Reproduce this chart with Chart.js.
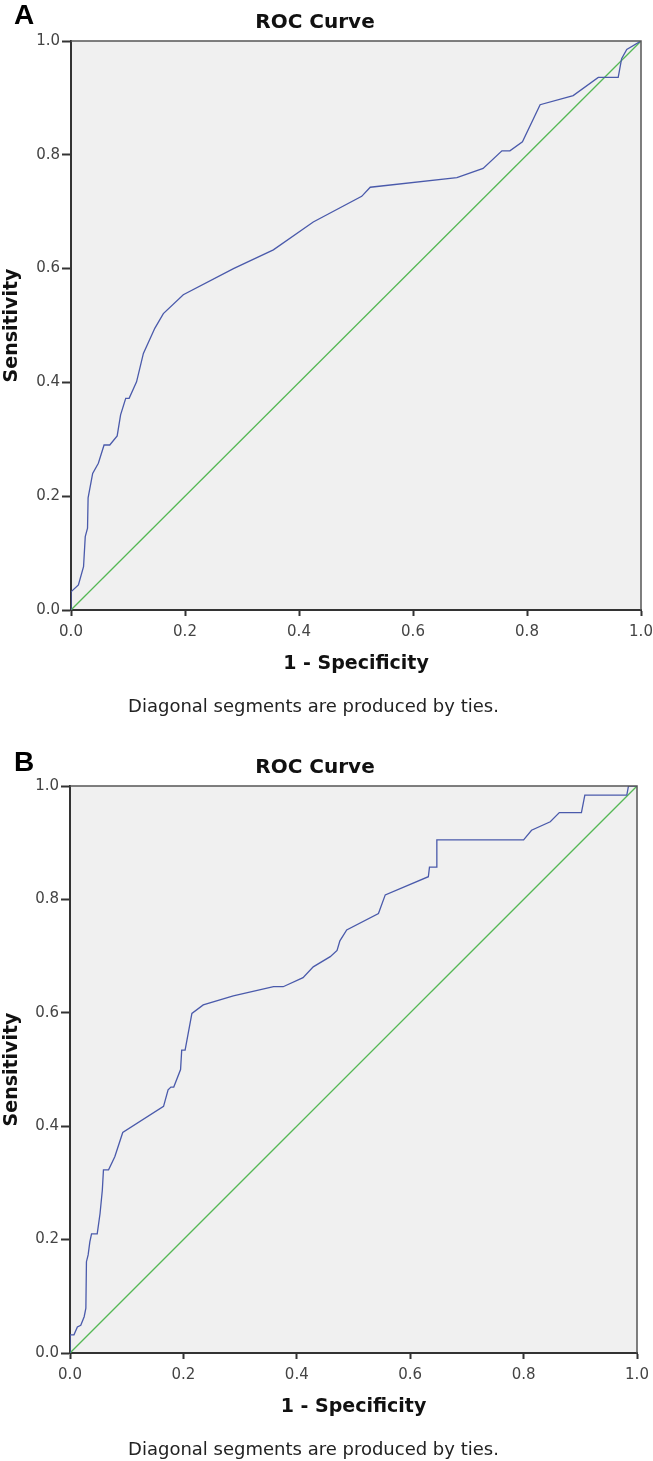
<!DOCTYPE html>
<html>
<head>
<meta charset="utf-8">
<title>ROC Curves</title>
<script src="https://cdn.jsdelivr.net/npm/chart.js@4.4.1/dist/chart.umd.min.js"></script>
<style>
    html, body { margin: 0; padding: 0; background: #fff; }
    body { width: 653px; height: 1461px; position: relative; overflow: hidden; }
    .panel { position: absolute; left: 0; width: 653px; }
    .panel canvas { position: absolute; left: 0; top: 0; }
    .letter { position: absolute; left: 14px; top: 0; font: bold 28px/30px "Liberation Sans", Arial, sans-serif; color: #000; z-index: 2; }
    .title { position: absolute; left: 0; width: 630px; top: 9px; text-align: center; font: bold 20px/24px "DejaVu Sans", sans-serif; color: #111; z-index: 2; }
    .note { position: absolute; left: 0; width: 627px; top: 694px; text-align: center; font: 18px/24px "DejaVu Sans", sans-serif; color: #222; z-index: 2; }
</style>
</head>
<body>

<div class="panel" style="top:0;height:745px">
    <div class="letter">A</div>
    <div class="title">ROC Curve</div>
    <canvas id="rocA" width="653" height="745"></canvas>
    <div class="note">Diagonal segments are produced by ties.</div>
</div>

<div class="panel" style="top:745px;height:716px">
    <div class="letter" style="top:2px">B</div>
    <div class="title">ROC Curve</div>
    <canvas id="rocB" width="653" height="716"></canvas>
    <div class="note" style="top:692px">Diagonal segments are produced by ties.</div>
</div>

<script>
// Tick labels shared by both axes of both panels
const tickValues = [0, 0.2, 0.4, 0.6, 0.8, 1.0];

// Panel A (1 - specificity, sensitivity)
const fprA = [0, 0, 0.013, 0.022, 0.025, 0.029, 0.030, 0.038, 0.048, 0.058, 0.068, 0.081, 0.087, 0.096, 0.102, 0.115, 0.127, 0.147, 0.162, 0.197, 0.285, 0.355, 0.425, 0.510, 0.525, 0.677, 0.723, 0.756, 0.770, 0.792, 0.823, 0.881, 0.925, 0.960, 0.966, 0.975, 1.0];
const tprA = [0, 0.032, 0.044, 0.076, 0.129, 0.144, 0.197, 0.240, 0.258, 0.290, 0.290, 0.306, 0.343, 0.372, 0.372, 0.401, 0.451, 0.495, 0.521, 0.554, 0.600, 0.633, 0.682, 0.727, 0.743, 0.760, 0.776, 0.807, 0.807, 0.823, 0.888, 0.904, 0.936, 0.936, 0.969, 0.985, 1.0];

// Panel B
const fprB = [0, 0, 0.007, 0.013, 0.019, 0.025, 0.028, 0.029, 0.032, 0.035, 0.038, 0.048, 0.053, 0.057, 0.059, 0.068, 0.079, 0.093, 0.165, 0.173, 0.178, 0.183, 0.195, 0.197, 0.203, 0.215, 0.235, 0.288, 0.359, 0.376, 0.411, 0.429, 0.459, 0.471, 0.476, 0.488, 0.544, 0.556, 0.632, 0.634, 0.647, 0.647, 0.800, 0.814, 0.847, 0.863, 0.902, 0.908, 0.982, 0.985, 1.0];
const tprB = [0, 0.032, 0.032, 0.046, 0.049, 0.064, 0.079, 0.161, 0.173, 0.196, 0.210, 0.210, 0.246, 0.287, 0.323, 0.323, 0.346, 0.389, 0.435, 0.464, 0.469, 0.469, 0.500, 0.534, 0.534, 0.599, 0.614, 0.630, 0.646, 0.646, 0.662, 0.681, 0.699, 0.710, 0.727, 0.746, 0.775, 0.808, 0.840, 0.857, 0.857, 0.905, 0.905, 0.922, 0.937, 0.953, 0.953, 0.984, 0.984, 1.0, 1.0];

// Reference (chance) line
const refX = [0, 1];
const refY = [0, 1];

const FONT = '"DejaVu Sans", sans-serif';

/**
 * Grey plot background and thin top/right frame, like the SPSS output
 */
const plotFrame = {
    id: 'plotFrame',
    beforeDraw(chart) {
        const a = chart.chartArea;
        const ctx = chart.ctx;
        ctx.save();
        ctx.fillStyle = '#f0f0f0';
        ctx.fillRect(a.left, a.top, a.right - a.left, a.bottom - a.top);
        ctx.restore();
    },
    afterDraw(chart) {
        const a = chart.chartArea;
        const ctx = chart.ctx;
        ctx.save();
        ctx.strokeStyle = '#555';
        ctx.lineWidth = 1.5;
        ctx.beginPath();
        ctx.moveTo(a.left, a.top);
        ctx.lineTo(a.right, a.top);
        ctx.lineTo(a.right, a.bottom);
        ctx.stroke();
        ctx.restore();
    }
};

function toPoints(xs, ys) {
    return xs.map((x, i) => ({ x: x, y: ys[i] }));
}

function setTicks(scale) {
    scale.ticks = tickValues.map(v => ({ value: v }));
}

/**
 * Build one ROC panel; g holds the plot-area margins in canvas pixels
 */
function makeRoc(id, fpr, tpr, g) {
    const canvas = document.getElementById(id);
    return new Chart(canvas, {
        type: 'scatter',
        data: {
            datasets: [
                {
                    data: toPoints(fpr, tpr),
                    showLine: true,
                    borderColor: '#4a5aab',
                    borderWidth: 1.3,
                    pointRadius: 0,
                    tension: 0
                },
                {
                    data: toPoints(refX, refY),
                    showLine: true,
                    borderColor: '#55b855',
                    borderWidth: 1.3,
                    pointRadius: 0
                }
            ]
        },
        options: {
            responsive: false,
            animation: false,
            events: [],
            layout: {
                padding: { left: 0, right: g.right, top: g.top, bottom: g.bottom }
            },
            plugins: {
                legend: { display: false },
                tooltip: { enabled: false },
                title: { display: false }
            },
            scales: {
                x: {
                    type: 'linear',
                    min: 0,
                    max: 1,
                    afterBuildTicks: setTicks,
                    afterFit: s => {
                        // fixed box, no extra room for the end labels
                        s.height = 65;
                        s.paddingLeft = 0;
                        s.paddingRight = 0;
                    },
                    grid: {
                        drawOnChartArea: false,
                        drawTicks: true,
                        tickLength: 6,
                        tickWidth: 2,
                        tickColor: '#333'
                    },
                    border: { display: true, width: 2, color: '#333' },
                    ticks: {
                        padding: 7,
                        color: '#444',
                        maxRotation: 0,
                        autoSkip: false,
                        font: { family: FONT, size: 15 },
                        callback: v => Number(v).toFixed(1)
                    },
                    title: {
                        display: true,
                        text: '1 - Specificity',
                        color: '#111',
                        padding: 0,
                        font: { family: FONT, size: 19, weight: 'bold' }
                    }
                },
                y: {
                    type: 'linear',
                    min: 0,
                    max: 1,
                    afterBuildTicks: setTicks,
                    afterFit: s => {
                        s.width = g.left;
                        s.paddingTop = 0;
                        s.paddingBottom = 0;
                    },
                    grid: {
                        drawOnChartArea: false,
                        drawTicks: true,
                        tickLength: 9,
                        tickWidth: 2,
                        tickColor: '#333'
                    },
                    border: { display: true, width: 2, color: '#333' },
                    ticks: {
                        padding: 2,
                        color: '#444',
                        autoSkip: false,
                        font: { family: FONT, size: 15 },
                        callback: v => Number(v).toFixed(1)
                    },
                    title: {
                        display: true,
                        text: 'Sensitivity',
                        color: '#111',
                        padding: { top: 1, bottom: 0 },
                        font: { family: FONT, size: 19, weight: 'bold' }
                    }
                }
            }
        },
        plugins: [plotFrame]
    });
}

document.addEventListener('DOMContentLoaded', function() {
    // plot areas: A 71..641 x 41..610, B 70..637 x 786..1353 (page coords)
    makeRoc('rocA', fprA, tprA, { left: 71, right: 12, top: 41, bottom: 70 });
    makeRoc('rocB', fprB, tprB, { left: 70, right: 16, top: 41, bottom: 43 });
});
</script>
</body>
</html>
